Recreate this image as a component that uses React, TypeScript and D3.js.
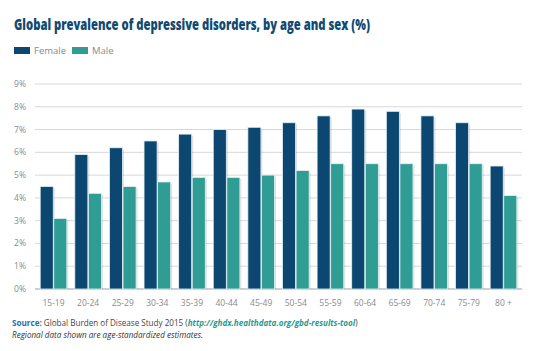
import * as d3 from 'd3'

const ageGroups = ['15-19', '20-24', '25-29', '30-34', '35-39', '40-44', '45-49', '50-54', '55-59', '60-64', '65-69', '70-74', '75-79', '80 +']
const femaleValues = [4.5, 5.9, 6.2, 6.5, 6.8, 7.0, 7.1, 7.3, 7.6, 7.9, 7.8, 7.6, 7.3, 5.4]
const maleValues = [3.1, 4.2, 4.5, 4.7, 4.9, 4.9, 5.0, 5.2, 5.5, 5.5, 5.5, 5.5, 5.5, 4.1]
const seriesNames = ['Female', 'Male']
const yTicks = [0, 1, 2, 3, 4, 5, 6, 7, 8, 9]

const W = 538
const H = 351
const FEMALE = '#0b4771'
const MALE = '#2f9d93'
const FONT = '"Open Sans", "DejaVu Sans", sans-serif'

export default function App() {
  const x = d3.scaleBand<string>().domain(ageGroups).range([35, 522]).paddingInner(0.23).paddingOuter(0.15)
  const xs = d3.scaleBand<string>().domain(seriesNames).range([0, x.bandwidth()]).paddingInner(0.04)
  const y = d3.scaleLinear().domain([0, 9]).range([289, 84])
  const color = d3.scaleOrdinal<string, string>().domain(seriesNames).range([FEMALE, MALE])

  const rows = ageGroups.map((age, i) => ({ age, values: [femaleValues[i], maleValues[i]] }))

  return (
    <svg width={W} height={H} style={{ position: 'absolute', left: 0, top: 0, background: '#fff' }} fontFamily={FONT}>
      {/* title, condensed to the original's width */}
      <text x={14} y={30} fontSize={15} fontWeight={800} fill="#0f4a73" textLength={356} lengthAdjust="spacingAndGlyphs">
        Global prevalence of depressive disorders, by age and sex (%)
      </text>

      {/* legend */}
      {seriesNames.map((s, i) => (
        <g key={s} transform={`translate(${14 + i * 58},47)`}>
          <rect width={16} height={7} fill={color(s)} />
          <text x={20} y={7} fontSize={9.5} fill="#8a8a8a">{s}</text>
        </g>
      ))}

      {/* grid */}
      {yTicks.map((t) => (
        <g key={t}>
          <line x1={35} x2={522} y1={y(t)} y2={y(t)} stroke={t === 0 ? '#9aa0a6' : '#d8d8d8'} strokeWidth={1} />
          <text x={26} y={y(t) + 3} fontSize={8.5} fill="#8a8a8a" textAnchor="end">{t}%</text>
        </g>
      ))}

      {/* bars */}
      {rows.map((r) => (
        <g key={r.age} transform={`translate(${x(r.age)},0)`}>
          {r.values.map((v, j) => {
            const bx = xs(seriesNames[j])!
            const top = y(v)
            const h = y(0) - top
            return (
              <g key={j}>
                <rect x={bx + 1.5} y={top + 1.5} width={xs.bandwidth()} height={h - 1.5} fill="#000" opacity={0.12} />
                <rect x={bx} y={top} width={xs.bandwidth()} height={h} fill={color(seriesNames[j])} stroke="#e4f0f5" strokeWidth={0.8} />
              </g>
            )
          })}
          <text x={x.bandwidth() / 2} y={306} fontSize={8.5} fill="#8a8a8a" textAnchor="middle">{r.age}</text>
        </g>
      ))}

      {/* source */}
      <text x={12} y={326} fontSize={8.1} fill="#444">
        <tspan fill="#1f6fa3" fontWeight={700}>Source:</tspan>
        <tspan>{'  Global Burden of Disease Study 2015 ('}</tspan>
        <tspan fill="#2a9a91" fontWeight={700} fontStyle="italic">http://ghdx.healthdata.org/gbd-results-tool</tspan>
        <tspan>)</tspan>
      </text>
      <text x={12} y={338} fontSize={8.1} fill="#333" fontStyle="italic">
        Regional data shown are age-standardized estimates.
      </text>
    </svg>
  )
}
